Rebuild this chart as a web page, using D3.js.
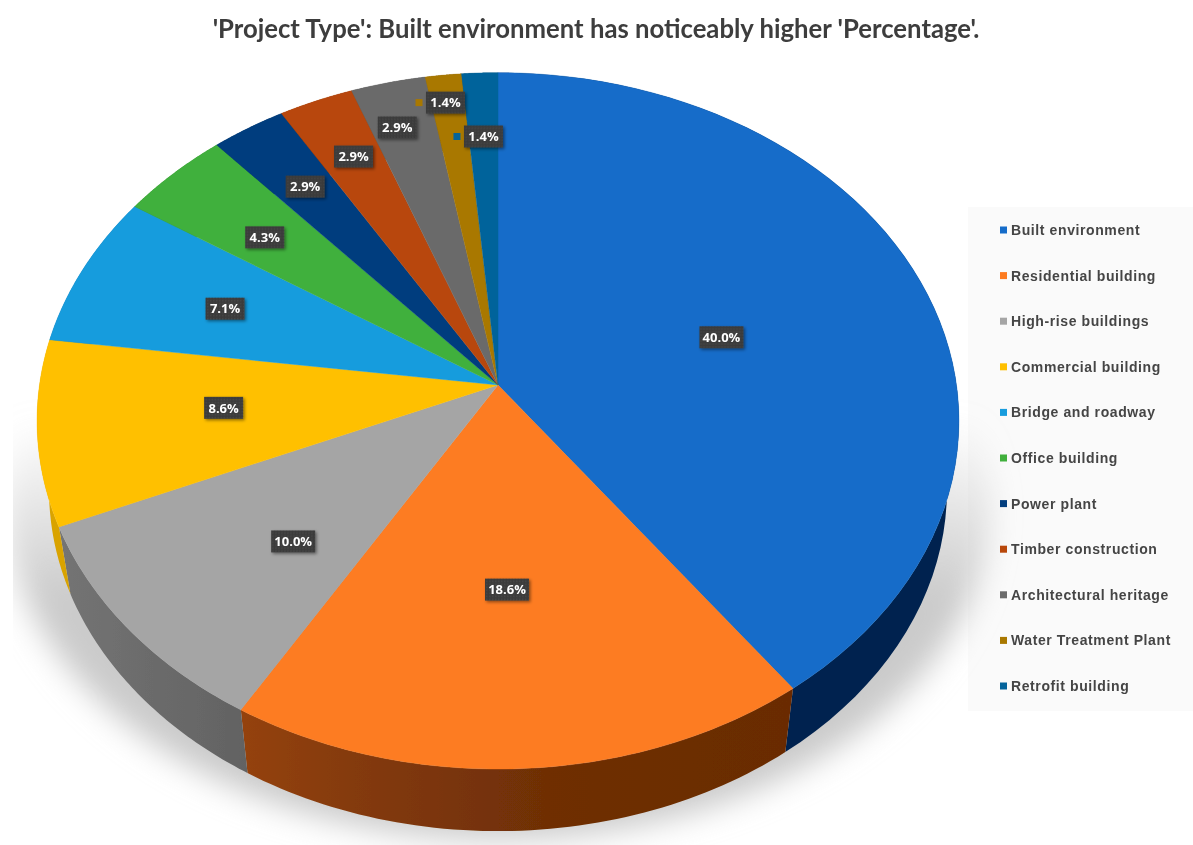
<!DOCTYPE html>
<html><head><meta charset="utf-8">
<script src="https://cdn.jsdelivr.net/npm/d3@7"></script>
<style>html,body{margin:0;padding:0;background:#fff}svg{display:block}</style></head>
<body><svg id="c" width="1193" height="845"></svg>
<script>
const categories = ["Built environment","Residential building","High-rise buildings","Commercial building","Bridge and roadway","Office building","Power plant","Timber construction","Architectural heritage","Water Treatment Plant","Retrofit building"];
const percentages = [40.0,18.6,10.0,8.6,7.1,4.3,2.9,2.9,2.9,1.4,1.4];
const topColors = ["#156cc9","#fd7b20","#a5a5a5","#ffc000","#189cdd","#41b03d","#033e7e","#b8470a","#6b6b6b","#a97800","#04649b"];
const wallColors = ["#02244f","url(#wallOrange)","url(#wallGray)","#d9a300","#0d6a9a","#2a7a28","#022a55","#7f3006","#4a4a4a","#755300","#024469"];
const labelRadius = [.514,.56,.6085,.598,.65,.696,.758,.788,.844,.904,.78];
const labelTurn = [2.2,.8,-4.2,1.5,0,-.8,0,.3,-1.1,-.4,0];
const title = "'Project Type': Built environment has noticeably higher 'Percentage'.";

const W=1193,H=845, apex={x:498,y:385};
const A=344.5, C=-0.103, D=458.5;            // perspective of the tilted disc
const svg=d3.select("#c");
const defs=svg.append("defs");

function project(r,ang){                     // ang clockwise from 12 o'clock, radians
  const u=r*Math.sin(ang), v=-r*Math.cos(ang), den=1+C*v;
  return [D*u/den, A*v/den];
}
const topPt=(r,a)=>{const p=project(r,a);return [apex.x+p[0],apex.y+p[1]];};
const lowPt=(a)=>{const p=project(1,a);return [apex.x+p[0]*.974,(apex.y+p[1]-421)*.98+490];};

const arcs=d3.pie().sort(null).value(d=>d)(percentages);
const line=d3.line();
const samples=(a0,a1)=>d3.range(0,61).map(i=>a0+(a1-a0)*i/60);

// gradients / filters
const gOrange=defs.append("linearGradient").attr("id","wallOrange").attr("gradientUnits","userSpaceOnUse")
  .attr("x1",245).attr("x2",790).attr("y1",0).attr("y2",0);
[[0,"#94420e"],[.2,"#843a0a"],[.55,"#6f2f06"],[1,"#6a2c05"]].forEach(s=>gOrange.append("stop").attr("offset",s[0]).attr("stop-color",s[1]));
const gGray=defs.append("linearGradient").attr("id","wallGray").attr("gradientUnits","userSpaceOnUse")
  .attr("x1",60).attr("x2",248).attr("y1",0).attr("y2",0);
[[0,"#747474"],[1,"#626262"]].forEach(s=>gGray.append("stop").attr("offset",s[0]).attr("stop-color",s[1]));
const gShadow=defs.append("linearGradient").attr("id","shadowFade").attr("gradientUnits","userSpaceOnUse")
  .attr("x1",0).attr("x2",0).attr("y1",420).attr("y2",600);
[[0,"#cbcbcb",0],[1,"#cbcbcb",1]].forEach(s=>gShadow.append("stop").attr("offset",s[0]).attr("stop-color",s[1]).attr("stop-opacity",s[2]));
defs.append("filter").attr("id","blur").attr("filterUnits","userSpaceOnUse").attr("x",13).attr("y",300).attr("width",1100).attr("height",545)
  .append("feGaussianBlur").attr("stdDeviation",15);
defs.append("filter").attr("id","soft").attr("x","-5%").attr("y","-5%").attr("width","110%").attr("height","110%")
  .append("feGaussianBlur").attr("stdDeviation",.55);
defs.append("filter").attr("id","textSoft").attr("x","-5%").attr("y","-20%").attr("width","110%").attr("height","140%")
  .append("feGaussianBlur").attr("stdDeviation",.35);
const ds=defs.append("filter").attr("id","lbl").attr("x","-20%").attr("y","-20%").attr("width","150%").attr("height","160%");
ds.append("feDropShadow").attr("dx",1.5).attr("dy",1.5).attr("stdDeviation",1.5).attr("flood-color","#000").attr("flood-opacity",.45);
const pat=defs.append("pattern").attr("id","dots").attr("width",3).attr("height",3).attr("patternUnits","userSpaceOnUse");
pat.append("rect").attr("width",3).attr("height",3).attr("fill","#3a3a3a");
pat.append("rect").attr("width",1.5).attr("height",1.5).attr("fill","#484848");

// legend panel
svg.append("rect").attr("x",968).attr("y",207).attr("width",225).attr("height",504).attr("fill","#fafafa");

// ground shadow
svg.append("ellipse").attr("cx",498).attr("cy",505).attr("rx",492).attr("ry",335)
  .attr("fill","url(#shadowFade)").attr("filter","url(#blur)");

// pie
const pie=svg.append("g").attr("filter","url(#soft)");
pie.selectAll("path.wall").data(arcs).join("path").attr("class","wall")
  .attr("fill",(d,i)=>wallColors[i])
  .attr("d",d=>{
    const s=samples(d.startAngle,d.endAngle);
    return line(s.map(a=>topPt(1,a)).concat(s.slice().reverse().map(lowPt)))+"Z";
  });
pie.selectAll("path.top").data(arcs).join("path").attr("class","top")
  .attr("fill",(d,i)=>topColors[i])
  .attr("stroke",(d,i)=>topColors[i]).attr("stroke-width",.4)
  .attr("d",d=>line([[apex.x,apex.y]].concat(samples(d.startAngle,d.endAngle).map(a=>topPt(1,a))))+"Z");

// data labels
const fmt=d3.format(".1f");
const lab=svg.selectAll("g.lab").data(arcs).join("g").attr("class","lab")
  .attr("transform",(d,i)=>{
    const mid=(d.startAngle+d.endAngle)/2+labelTurn[i]*Math.PI/180;
    return "translate("+topPt(labelRadius[i],mid)+")";
  });
lab.append("rect").attr("x",d=>d.value>=10?-22:-19.5).attr("y",-11).attr("width",d=>d.value>=10?44:39).attr("height",22)
  .attr("fill","url(#dots)").attr("filter","url(#lbl)");
lab.append("text").attr("text-anchor","middle").attr("dy","0.36em").attr("fill","#fff")
  .attr("font-family","'Open Sans',sans-serif").attr("font-weight",700).attr("font-size",13)
  .attr("filter","url(#textSoft)")
  .text(d=>fmt(d.value)+"%");
lab.filter(d=>d.index>=9).append("rect").attr("x",-30).attr("y",-3.5).attr("width",7).attr("height",7)
  .attr("fill",d=>topColors[d.index]);

// legend
const ly=d3.scalePoint().domain(categories).range([230,686]);
const leg=svg.selectAll("g.leg").data(categories).join("g").attr("class","leg")
  .attr("transform",d=>`translate(1000,${ly(d)})`);
leg.append("rect").attr("y",-3.5).attr("width",7).attr("height",7).attr("fill",(d,i)=>topColors[i]);
leg.append("text").attr("x",11).attr("dy","0.35em").attr("fill","#454545")
  .attr("font-family","'Liberation Sans',Arial,sans-serif").attr("font-weight",700).attr("font-size",14)
  .attr("letter-spacing",.6).attr("filter","url(#textSoft)")
  .text(d=>d);

// title
svg.append("text").attr("x",596).attr("y",38).attr("text-anchor","middle").attr("fill","#3c3c3c")
  .attr("font-family","Lato,sans-serif").attr("font-weight",700).attr("font-size",25.7)
  .attr("filter","url(#textSoft)").text(title);
</script></body></html>
